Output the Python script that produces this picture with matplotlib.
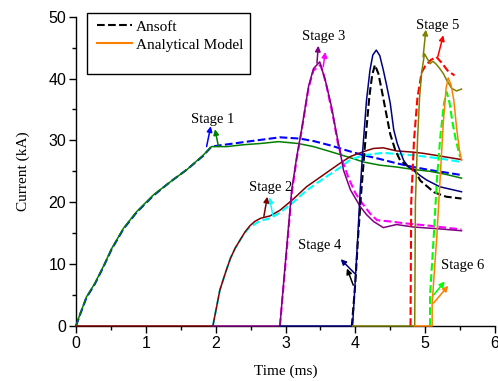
import matplotlib
matplotlib.use('Agg')
import matplotlib.pyplot as plt
from matplotlib.lines import Line2D
from matplotlib.patches import Rectangle

# Stage 1 (Ansoft dashed blue / analytical solid green)
t_s1_ans = [0, 0.06, 0.15, 0.27, 0.39, 0.51, 0.68, 0.87, 1.11, 1.35, 1.59, 1.82, 1.94, 2.06, 2.45, 2.92, 3.2, 3.4, 3.64, 3.9, 4.12, 4.35, 4.59, 4.83, 5.07, 5.3, 5.52]
i_s1_ans = [0, 1.9, 4.6, 6.8, 9.5, 12.4, 15.7, 18.4, 21.1, 23.3, 25.3, 27.5, 29.0, 29.2, 29.8, 30.5, 30.3, 29.9, 29.2, 28.3, 27.6, 27.0, 26.3, 25.7, 25.2, 24.8, 24.4]
t_s1_mod = [0, 0.06, 0.15, 0.27, 0.39, 0.51, 0.68, 0.87, 1.11, 1.35, 1.59, 1.82, 1.94, 2.16, 2.4, 2.64, 2.9, 3.18, 3.4, 3.64, 3.9, 4.12, 4.35, 4.59, 4.83, 5.07, 5.3, 5.52]
i_s1_mod = [0, 2.0, 4.7, 6.9, 9.6, 12.5, 15.8, 18.5, 21.2, 23.3, 25.3, 27.6, 29.0, 29.0, 29.3, 29.5, 29.8, 29.5, 29.0, 28.2, 27.3, 26.5, 26.0, 25.7, 25.3, 25.0, 24.5, 23.9]

# Stage 2 (cyan / maroon)
t_s2_ans = [1.96, 2.06, 2.14, 2.21, 2.28, 2.35, 2.42, 2.49, 2.64, 2.78, 2.92, 3.11, 3.30, 3.54, 3.78, 3.93, 4.12, 4.40, 4.59, 4.83, 5.2, 5.52]
i_s2_ans = [0, 5.8, 8.6, 10.9, 12.6, 13.9, 15.1, 16.0, 17.0, 17.4, 18.3, 20.0, 21.9, 23.8, 25.6, 26.9, 27.6, 28.0, 27.8, 27.6, 27.1, 26.5]
t_s2_mod = [0, 1.96, 2.06, 2.14, 2.21, 2.28, 2.35, 2.42, 2.49, 2.56, 2.64, 2.78, 2.92, 3.11, 3.30, 3.54, 3.64, 3.78, 3.93, 4.12, 4.26, 4.40, 4.59, 4.83, 4.98, 5.2, 5.52]
i_s2_mod = [0, 0, 5.8, 8.6, 10.9, 12.6, 13.9, 15.2, 16.2, 16.9, 17.4, 17.8, 18.7, 20.5, 22.5, 24.4, 25.2, 26.3, 27.4, 28.2, 28.7, 28.8, 28.3, 28.1, 27.9, 27.5, 26.9]

# Stage 3 (magenta / purple)
t_s3_ans = [2.92, 3.00, 3.09, 3.16, 3.23, 3.33, 3.40, 3.50, 3.55, 3.59, 3.64, 3.69, 3.75, 3.82, 3.90, 4.00, 4.10, 4.21, 4.31, 4.50, 4.70, 5.07, 5.52]
i_s3_ans = [0, 10, 21.5, 27, 31.5, 38.5, 41.3, 42.2, 40.5, 38.7, 36, 33.3, 29.5, 26.5, 24.0, 21.5, 19.8, 18.2, 17.1, 16.9, 16.6, 16.2, 15.6]
t_s3_mod = [1.96, 2.92, 3.00, 3.05, 3.09, 3.16, 3.23, 3.33, 3.40, 3.49, 3.57, 3.66, 3.72, 3.78, 3.83, 3.93, 4.07, 4.16, 4.26, 4.40, 4.59, 4.83, 5.2, 5.52]
i_s3_mod = [0, 0, 10.5, 17, 22, 27.3, 31.7, 38.7, 41.6, 42.7, 39.7, 35.4, 31.7, 28.3, 25.2, 22.0, 19.3, 18.0, 16.9, 15.9, 16.4, 16.0, 15.7, 15.4]

# Stage 4 (black / navy)
t_s4_ans = [3.95, 4.00, 4.04, 4.08, 4.14, 4.20, 4.24, 4.28, 4.33, 4.38, 4.46, 4.50, 4.57, 4.64, 4.73, 4.85, 4.93, 5.13, 5.30, 5.52]
i_s4_ans = [0, 7, 14.5, 21, 29.5, 37, 40.5, 42.2, 40.8, 38.0, 33.3, 31.0, 28.5, 26.8, 26.0, 25.2, 23.5, 21.6, 20.9, 20.6]
t_s4_mod = [2.92, 3.96, 4.00, 4.04, 4.07, 4.11, 4.16, 4.21, 4.25, 4.30, 4.35, 4.40, 4.45, 4.50, 4.55, 4.60, 4.69, 4.76, 4.83, 4.93, 5.02, 5.21, 5.52]
i_s4_mod = [0, 0, 7.5, 15.5, 22, 29, 36.5, 41.4, 43.8, 44.6, 43.7, 41.4, 38.8, 36.0, 31.7, 29.5, 26.8, 25.7, 25.2, 24.3, 23.6, 22.5, 21.7]

# Stage 5 (red / olive)
t_s5_ans = [4.79, 4.80, 4.84, 4.89, 4.95, 5.00, 5.08, 5.16, 5.24, 5.32, 5.42]
i_s5_ans = [0, 20, 30, 37, 41, 42, 43, 43.5, 42.5, 41.3, 40.5]
t_s5_mod = [3.96, 4.85, 4.86, 4.89, 4.92, 4.95, 4.99, 5.03, 5.07, 5.11, 5.16, 5.21, 5.26, 5.31, 5.38, 5.45, 5.52]
i_s5_mod = [0, 0, 20, 30, 37, 41, 44.0, 43.2, 42.4, 42.8, 42.3, 41.6, 40.8, 39.7, 38.4, 38.0, 38.3]

# Stage 6 (lime / orange)
t_s6_ans = [5.07, 5.07, 5.12, 5.17, 5.22, 5.27, 5.31, 5.35, 5.39, 5.44, 5.50]
i_s6_ans = [0, 5, 14, 24, 31, 36, 37.8, 36, 33, 30, 27.3]
t_s6_mod = [4.85, 5.10, 5.10, 5.17, 5.22, 5.26, 5.30, 5.33, 5.37, 5.41, 5.45, 5.49, 5.52]
i_s6_mod = [0, 0, 3.7, 15, 25, 33, 38.5, 40.1, 39, 36.5, 32, 28.5, 26.8]

ans_colors = ['#0000ff', '#00ffff', '#ff00ff', '#000000', '#ff0000', '#00ff00']
mod_colors = ['#008000', '#800000', '#800080', '#000080', '#808000', '#ff8000']

# stage labels and arrows (tail, head) for Ansoft / model
stage_names = ['Stage 1', 'Stage 2', 'Stage 3', 'Stage 4', 'Stage 5', 'Stage 6']
label_pos = [(1.96, 33.4), (2.78, 22.4), (3.54, 46.8), (3.49, 13.0), (5.18, 48.6), (5.53, 9.7)]
ans_arrows = [((1.87, 29.0), (1.93, 32.3)), ((2.82, 17.8), (2.77, 20.8)), ((3.54, 41.9), (3.57, 44.3)),
              ((3.97, 6.6), (3.88, 9.3)), ((5.18, 43.5), (5.26, 47.0)), ((5.12, 5.0), (5.28, 7.2))]
mod_arrows = [((2.04, 29.0), (1.99, 31.8)), ((2.69, 17.7), (2.74, 20.9)), ((3.45, 42.5), (3.47, 45.3)),
              ((3.99, 8.5), (3.79, 10.8)), ((4.97, 43.5), (5.01, 47.9)), ((5.12, 3.7), (5.33, 6.5))]

serif = ['Liberation Serif', 'DejaVu Serif']
sans = ['Liberation Sans', 'DejaVu Sans']

fig = plt.figure(figsize=(4.98, 3.81), dpi=100, facecolor='white')
ax = fig.add_axes([0.1526, 0.1444, 0.8414, 0.8118])

ans_t = [t_s1_ans, t_s2_ans, t_s3_ans, t_s4_ans, t_s5_ans, t_s6_ans]
ans_i = [i_s1_ans, i_s2_ans, i_s3_ans, i_s4_ans, i_s5_ans, i_s6_ans]
mod_t = [t_s1_mod, t_s2_mod, t_s3_mod, t_s4_mod, t_s5_mod, t_s6_mod]
mod_i = [i_s1_mod, i_s2_mod, i_s3_mod, i_s4_mod, i_s5_mod, i_s6_mod]

for k in range(6):
    ax.plot(ans_t[k], ans_i[k], color=ans_colors[k], lw=1.5, ls='--', zorder=3 + k, clip_on=False)
    ax.plot(mod_t[k], mod_i[k], color=mod_colors[k], lw=1.1, zorder=3.5 + k, clip_on=False,
            solid_joinstyle='round')

for k in range(6):
    for (tail, head), c in ((ans_arrows[k], ans_colors[k]), (mod_arrows[k], mod_colors[k])):
        ax.annotate('', xy=head, xytext=tail, zorder=20,
                    arrowprops=dict(arrowstyle='-|>', color=c, lw=1.1, mutation_scale=8,
                                    shrinkA=0, shrinkB=0))
    ax.text(label_pos[k][0], label_pos[k][1], stage_names[k], family=serif, fontsize=10.5,
            ha='center', va='center', zorder=21)

ax.set_xlim(0, 6)
ax.set_ylim(0, 50)
ax.set_xticks(range(0, 7))
ax.set_xticks([0.5 + i for i in range(6)], minor=True)
ax.set_yticks(range(0, 51, 10))
ax.set_yticks(range(5, 50, 10), minor=True)
for s in ('top', 'right'):
    ax.spines[s].set_visible(False)
for s in ('left', 'bottom'):
    ax.spines[s].set_linewidth(1.0)
ax.tick_params(which='major', direction='out', length=5, width=1.0, pad=2)
ax.tick_params(which='minor', direction='out', length=3, width=1.0)
for lab in ax.get_xticklabels() + ax.get_yticklabels():
    lab.set_family(sans)
    lab.set_fontsize(11.5)

ax.set_xlabel('Time (ms)', family=serif, fontsize=11, labelpad=10)
ax.set_ylabel('Current (kA)', family=serif, fontsize=11, labelpad=13)

# legend box
fig.patches.append(Rectangle((86.7 / 498, 1 - 74 / 381), (250 - 86.7) / 498, (74 - 13.3) / 381,
                             transform=fig.transFigure, fill=False, ec='black', lw=1.0))
handles = [Line2D([], [], color='black', ls='--', lw=1.5),
           Line2D([], [], color='#ff8000', lw=1.5)]
fig.legend(handles, ['Ansoft', 'Analytical Model'], loc='upper left',
           bbox_to_anchor=(96.7 / 498, 1 - 20 / 381), frameon=False, borderpad=0,
           borderaxespad=0, handlelength=2.3, handletextpad=0.25, labelspacing=0.28,
           prop={'family': serif, 'size': 11})

fig.savefig('out.png', dpi=100, facecolor='white')
